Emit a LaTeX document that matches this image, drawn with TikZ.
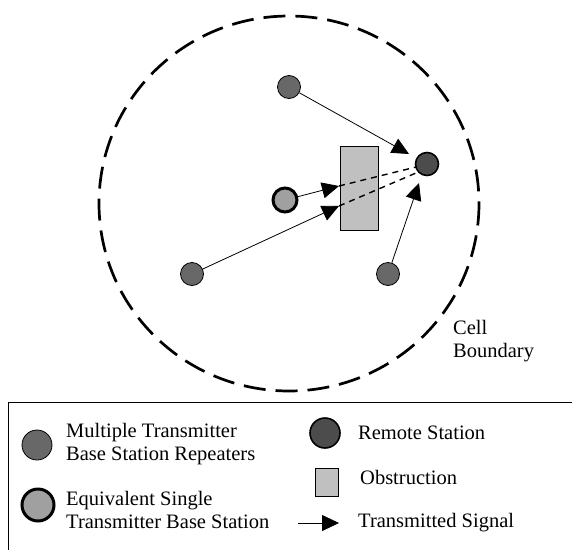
\documentclass[tikz,border=0pt]{standalone}
\usepackage{fontspec}
\setmainfont{Liberation Serif}
\usetikzlibrary{arrows.meta}
\definecolor{repfill}{HTML}{686868}
\definecolor{remfill}{HTML}{4C4C4C}
\definecolor{eqfill}{HTML}{A0A0A0}
\definecolor{obsfill}{HTML}{C0C0C0}
\tikzset{
  repeater/.style={circle, draw=black, line width=0.8pt, fill=repfill, minimum size=#1, inner sep=0pt},
  remote/.style={circle, draw=black, line width=1.6pt, fill=remfill, minimum size=#1, inner sep=0pt},
  equiv/.style={circle, draw=black, line width=3pt, fill=eqfill, minimum size=#1, inner sep=0pt},
  signal/.style={line width=0.8pt, -{Triangle[length=17pt,width=16pt]}},
  blocked/.style={line width=1.4pt, dash pattern=on 6pt off 5pt},
  label/.style={inner sep=0pt, anchor=west, align=left, font=\fontsize{20.5}{23.5}\selectfont},
}
\begin{document}
\begin{tikzpicture}[x=1pt, y=-1pt]
  \useasboundingbox (0,0) rectangle (572,549);
  \clip (0,0) rectangle (572,549);
  \fill[white] (0,0) rectangle (572,549);

  % cell boundary
  \draw[line width=2.7pt, dash pattern=on 22pt off 10pt] (289,203.5) ellipse [x radius=190, y radius=187.5];
  \node[label] (cell) at (453,341) {Cell\\Boundary};

  % obstruction
  \node[draw=black, line width=0.8pt, fill=obsfill, minimum width=38pt, minimum height=84pt, inner sep=0pt] (obs) at (359,188) {};

  % transmitters
  \node[repeater=23pt] (r1) at (289,87) {};
  \node[repeater=23pt] (r2) at (192,274) {};
  \node[repeater=23pt] (r3) at (388,274) {};
  \node[equiv=24pt] (eq) at (285,200) {};

  % arrow tips and paths through the obstruction
  \coordinate (t1) at (409,154);
  \coordinate (t2) at (339,186);
  \coordinate (t3) at (339,206);
  \coordinate (t4) at (419,183);
  \coordinate (e2) at (416,167);
  \coordinate (e3) at (416,173);

  \draw[blocked] (t2) -- (e2);
  \draw[blocked] (t3) -- (e3);

  \draw[signal] (r1) -- (t1);
  \draw[signal] (eq) -- (t2);
  \draw[signal] (r2) -- (t3);
  \draw[signal] (r3) -- (t4);

  % remote station
  \node[remote=23pt] (rem) at (427,164) {};

  % legend
  \draw[line width=1pt] (8,402) rectangle (620,620);
  \node[repeater=30pt] (lrep) at (37,445) {};
  \node[label] (lrept) at (66,444) {Multiple Transmitter\\Base Station Repeaters};
  \node[equiv=32pt] (leq) at (38,505) {};
  \node[label] (leqt) at (66,510) {Equivalent Single\\Transmitter Base Station};
  \node[remote=30pt] (lrem) at (325,433) {};
  \node[label] (lremt) at (358,433) {Remote Station};
  \node[draw=black, line width=0.8pt, fill=obsfill, minimum width=23pt, minimum height=28pt, inner sep=0pt] (lobs) at (326.5,482) {};
  \node[label] (lobst) at (360,477) {Obstruction};
  \coordinate (la) at (298,523);
  \coordinate (lb) at (339,523);
  \draw[signal] (la) -- (lb);
  \node[label] (lsigt) at (358,523) {Transmitted Signal};
\end{tikzpicture}
\end{document}
